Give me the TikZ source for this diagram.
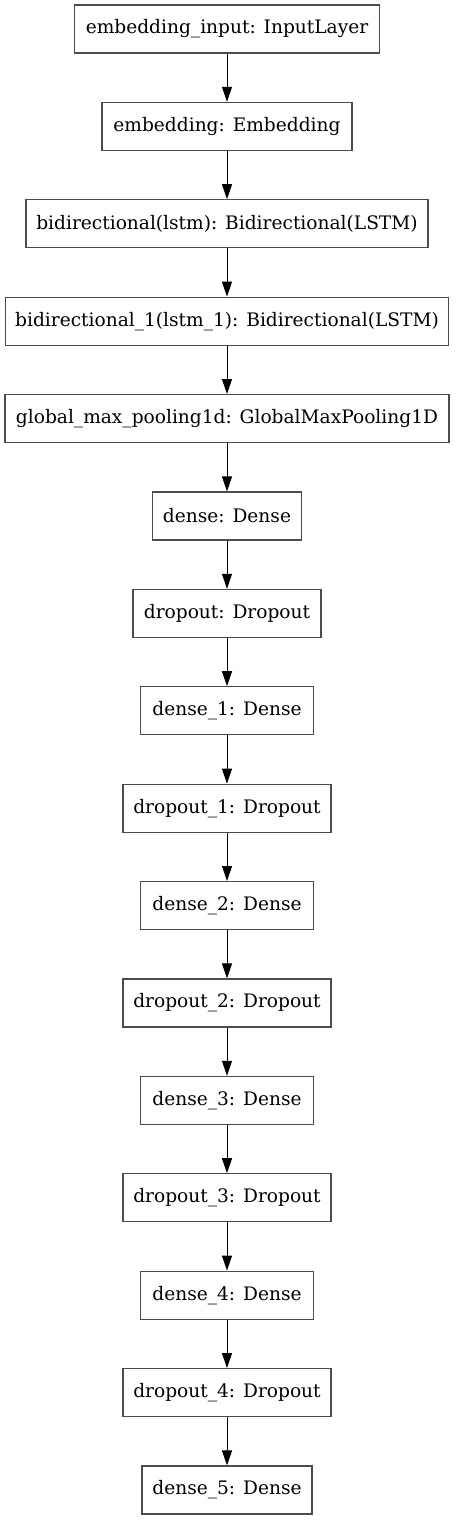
\documentclass[tikz,border=0pt]{standalone}
\usepackage{fontspec}
\setmainfont{DejaVu Serif}
\usetikzlibrary{arrows.meta}

\begin{document}
\begin{tikzpicture}[x=1pt, y=1pt,
    every node/.style={draw=black!70, line width=0.6pt, minimum height=24pt,
        inner sep=0pt, font=\fontsize{9.3}{11}\selectfont},
    >={Triangle[length=7.5pt,width=5pt]}  % filled graphviz-like heads
]
    \useasboundingbox (0,0) rectangle (227.5,-760);

    \node[minimum width=152.5pt] (l0) at (113.5,-14.5) {embedding\_input: InputLayer};
    \node[minimum width=125pt] (l1) at (113.5,-63.2) {embedding: Embedding};
    \node[minimum width=201pt] (l2) at (113.5,-111.9) {bidirectional(lstm): Bidirectional(LSTM)};
    \node[minimum width=221.5pt] (l3) at (113.5,-160.6) {bidirectional\_1(lstm\_1): Bidirectional(LSTM)};
    \node[minimum width=222pt] (l4) at (113.5,-209.3) {global\_max\_pooling1d: GlobalMaxPooling1D};
    \node[minimum width=74.5pt] (l5) at (113.5,-258.0) {dense: Dense};
    \node[minimum width=94pt] (l6) at (113.5,-306.7) {dropout: Dropout};
    \node[minimum width=86.5pt] (l7) at (113.5,-355.4) {dense\_1: Dense};
    \node[minimum width=104pt] (l8) at (113.5,-404.1) {dropout\_1: Dropout};
    \node[minimum width=86.5pt] (l9) at (113.5,-452.8) {dense\_2: Dense};
    \node[minimum width=104pt] (l10) at (113.5,-501.5) {dropout\_2: Dropout};
    \node[minimum width=86.5pt] (l11) at (113.5,-550.2) {dense\_3: Dense};
    \node[minimum width=104pt] (l12) at (113.5,-598.9) {dropout\_3: Dropout};
    \node[minimum width=86.5pt] (l13) at (113.5,-647.6) {dense\_4: Dense};
    \node[minimum width=104pt] (l14) at (113.5,-696.3) {dropout\_4: Dropout};
    \node[minimum width=85pt] (l15) at (113.5,-745.0) {dense\_5: Dense};

    \foreach \i/\j in {0/1,1/2,2/3,3/4,4/5,5/6,6/7,7/8,8/9,9/10,10/11,11/12,12/13,13/14,14/15}
        \draw[->, line width=0.5pt] (l\i) -- (l\j);
\end{tikzpicture}
\end{document}
